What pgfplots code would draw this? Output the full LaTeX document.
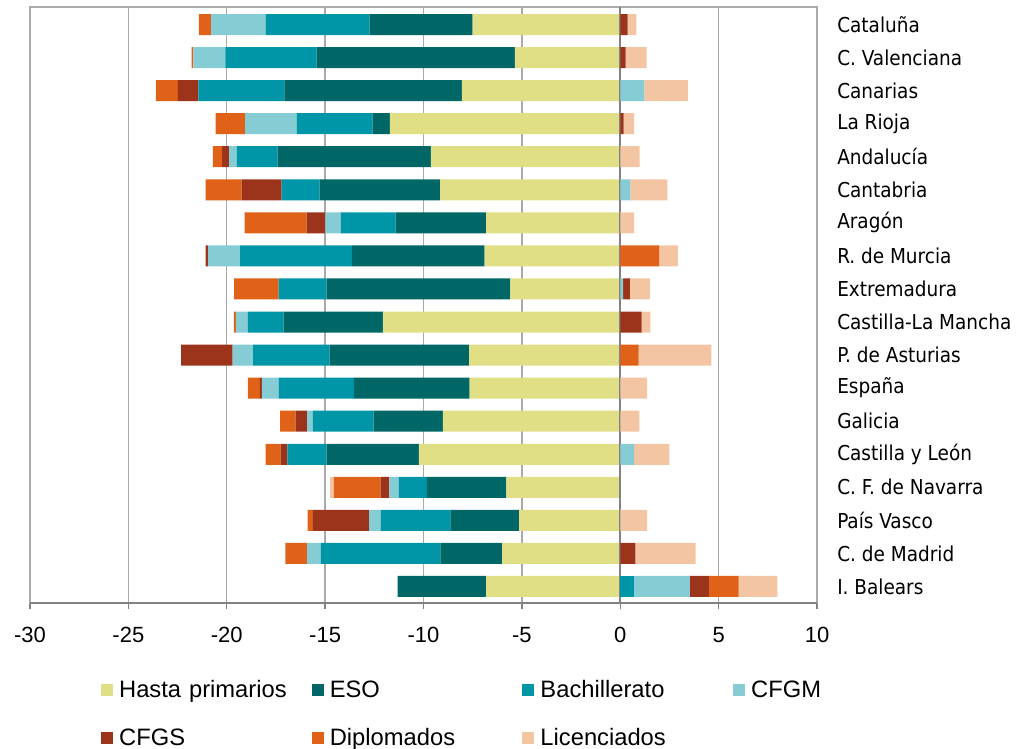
\documentclass[border=0pt]{standalone}
\usepackage{pgfplots}
\pgfplotsset{compat=1.18}
\usepackage{pgfplotstable}
\usepackage{fontspec}
\setmainfont{Liberation Sans}
\newfontfamily\catfont{DejaVu Sans Condensed}
\definecolor{cH}{RGB}{225,223,134}
\definecolor{cE}{RGB}{0,103,102}
\definecolor{cB}{RGB}{0,150,168}
\definecolor{cM}{RGB}{133,204,213}
\definecolor{cS}{RGB}{156,52,27}
\definecolor{cD}{RGB}{224,97,24}
\definecolor{cL}{RGB}{244,197,163}
\definecolor{gridc}{RGB}{170,170,170}
\definecolor{axc}{RGB}{130,130,130}

\pgfplotstableread{
y n1 n2 n3 n4 n5 n6 n7 p1 p2 p3 p4 p5 p6 p7
0 -7.50 -5.24 -5.28 -2.78 0 -0.62 0 0 0 0 0 0.37 0 0.45
1 -5.36 -10.07 -4.64 -1.62 0 -0.10 0 0 0 0 0 0.27 0 1.07
2 -8.05 -9.02 -4.37 0 -1.05 -1.11 0 0 0 0 1.22 0 0 2.22
3 -11.71 -0.88 -3.86 -2.62 0 -1.49 0 0 0 0 0 0.17 0 0.54
4 -9.63 -7.78 -2.07 -0.40 -0.36 -0.47 0 0 0 0 0 0 0 0.99
5 -9.15 -6.13 -1.93 0 -2.03 -1.83 0 0 0 0 0.51 0 0 1.89
6 -6.82 -4.60 -2.78 -0.79 -0.95 -3.15 0 0 0 0 0 0 0 0.71
7 -6.89 -6.75 -5.68 -1.63 -0.12 0 0 0 0 0 0 0 1.97 0.96
8 -5.58 -9.34 -2.44 0 0 -2.27 0 0 0 0 0.15 0.34 0 1.02
9 -12.06 -5.05 -1.81 -0.61 0 -0.11 0 0 0 0 0 1.09 0 0.44
10 -7.68 -7.09 -3.89 -1.04 -2.62 0 0 0 0 0 0 0 0.94 3.69
11 -7.65 -5.89 -3.82 -0.85 -0.11 -0.60 0 0 0 0 0 0 0 1.36
12 -9.02 -3.52 -3.08 -0.30 -0.58 -0.79 0 0 0 0 0 0 0 0.97
13 -10.24 -4.68 -2.00 0 -0.34 -0.76 0 0 0 0 0.71 0 0 1.79
14 -5.79 -4.04 -1.44 -0.47 -0.44 -2.37 -0.22 0 0 0 0 0 0 0
15 -5.14 -3.49 -3.55 -0.58 -2.86 -0.27 0 0 0 0 0 0 0 1.36
16 -6.01 -3.13 -6.07 -0.71 0 -1.10 0 0 0 0 0 0.77 0 3.06
17 -6.82 -4.50 0 0 0 0 0 0 0 0.71 2.83 0.97 1.51 1.97
}\data

\pgfplotsset{base/.style={scale only axis, width=590.25pt, height=447pt,
  xmin=-30, xmax=10, ymin=-0.53, ymax=17.5, y dir=reverse,
  xbar stacked, bar width=15.75pt}}

\begin{document}
\begin{tikzpicture}
\useasboundingbox (-22.5pt,-109.5pt) rectangle (741pt,452.25pt);
\begin{axis}[base,
  axis line style={draw=gridc, line width=1pt},
  xtick={-30,-25,...,10}, xtick pos=left, tick align=outside,
  major tick length=4.5pt,
  x tick style={draw=axc, line width=1pt},
  ytick={0,...,17},
  yticklabels={Cataluña, C. Valenciana, Canarias, La Rioja, Andalucía, Cantabria, Aragón, R. de Murcia, Extremadura, Castilla-La Mancha, P. de Asturias, España, Galicia, Castilla y León, C. F. de Navarra, País Vasco, C. de Madrid, I. Balears},
  yticklabel pos=right, y tick style={draw=none},
  xmajorgrids, grid style={draw=gridc, line width=1pt},
  /pgf/number format/assume math mode=true,
  xticklabel style={font=\fontsize{16.5}{18}\selectfont, yshift=-10pt},
  yticklabel style={font=\catfont\fontsize{15.4}{17}\selectfont, anchor=west, inner sep=0pt, xshift=10.5pt},
  legend columns=4,
  legend image code/.code={\fill[#1] (0pt,-4.5pt) rectangle (9pt,4.5pt);},
  legend style={draw=none, fill=none, at={(0.085,-0.12)}, anchor=north west,
    font=\fontsize{17.8}{20}\selectfont, row sep=18pt,
    nodes={text width=140pt, inner xsep=4.5pt, align=left}},
]
\addplot[fill=cH, draw=none] table[x=n1, y=y] {\data};
\addplot[fill=cE, draw=none] table[x=n2, y=y] {\data};
\addplot[fill=cB, draw=none] table[x=n3, y=y] {\data};
\addplot[fill=cM, draw=none] table[x=n4, y=y] {\data};
\addplot[fill=cS, draw=none] table[x=n5, y=y] {\data};
\addplot[fill=cD, draw=none] table[x=n6, y=y] {\data};
\addplot[fill=cL, draw=none] table[x=n7, y=y] {\data};
\legend{Hasta primarios, ESO, Bachillerato, CFGM, CFGS, Diplomados, Licenciados}
\end{axis}
\begin{axis}[base, hide axis]
\addplot[fill=cH, draw=none] table[x=p1, y=y] {\data};
\addplot[fill=cE, draw=none] table[x=p2, y=y] {\data};
\addplot[fill=cB, draw=none] table[x=p3, y=y] {\data};
\addplot[fill=cM, draw=none] table[x=p4, y=y] {\data};
\addplot[fill=cS, draw=none] table[x=p5, y=y] {\data};
\addplot[fill=cD, draw=none] table[x=p6, y=y] {\data};
\addplot[fill=cL, draw=none] table[x=p7, y=y] {\data};
\draw[axc, line width=1.5pt] (axis cs:0,-0.53) -- (axis cs:0,17.5);
\draw[axc, line width=1.5pt] (axis cs:-30,17.5) -- (axis cs:10,17.5);
\end{axis}
\end{tikzpicture}
\end{document}
